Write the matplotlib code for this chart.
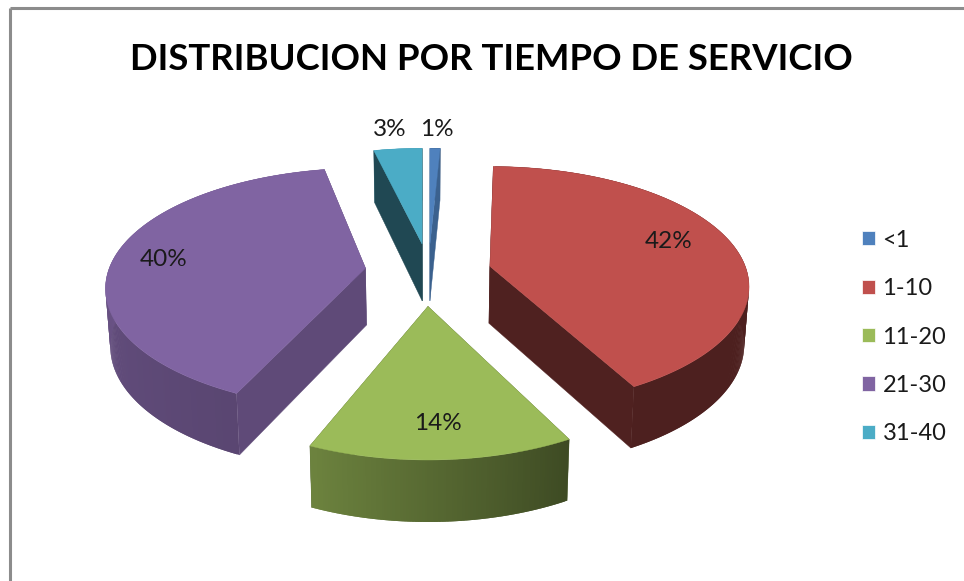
import numpy as np
import matplotlib
matplotlib.use('Agg')
import matplotlib.pyplot as plt
from matplotlib.patches import Patch, Polygon

# datos
CATEGORIAS = ['<1', '1-10', '11-20', '21-30', '31-40']
VALORES = [1, 42, 14, 40, 3]
COLORES = ['#4f81bd', '#c0504d', '#9bbb59', '#8064a2', '#4bacc6']

# geometry of the fake 3D pie, in pixels
CX, CY = 428, 272
RADIO = 258
PERSP = 0.17
ALTO = 118
EXPLOTA_X, EXPLOTA_Y = 63, 31
POS_ETIQUETAS = [(437, 130), (669, 241), (438, 424), (164, 260), (390, 130)]
# small per slice corrections of the start / end angle (the original has some perspective)
AJUSTE = [(0, -0.8), (-2.7, -3.5), (-2.5, -2.5), (0, 0), (-2.5, 0)]
SOMBRA_CORTE = [0.75, 0.41, 0.5, 0.74, 0.42]

plt.rcParams['font.family'] = ['Lato', 'DejaVu Sans']
fig = plt.figure(figsize=(9.64, 5.81), dpi=100)
ax = fig.add_axes([0, 0, 1, 1])
ax.set_xlim(0, 964)
ax.set_ylim(581, 0)
ax.axis('off')


def sombra(grados):
    # how much light the outer wall gets at this angle
    return np.interp(grados, [0, 155, 205, 250, 280, 360], [0.41, 0.40, 0.70, 0.76, 0.86, 0.86])


def oscuro(color, k):
    return tuple(np.array(matplotlib.colors.to_rgb(color)) * k)


def punto(ap, grados, escala, escala_y):
    t = np.radians(grados)
    u, v = np.sin(t), np.cos(t)
    d = 1 + PERSP * v
    return ap[0] + escala * RADIO * u / d, ap[1] - escala * escala_y * ALTO * v / d, v


def abajo(x, y, v):
    return CX + (x - CX) * 0.985, y + 57 - 5 * v


def dibuja_trozo(n, ini, fin):
    color = COLORES[n]
    medio = np.radians((ini + fin) / 2)
    s, c = np.sin(medio), np.cos(medio)
    apice = (CX + EXPLOTA_X * s, CY - EXPLOTA_Y * c / (1 + 0.1 * c))
    escala = 1 / (1 + 0.055 * max(c, 0))
    escala_y = 1 + 0.08 * max(-c, 0)

    angs = np.linspace(ini, fin, max(int(fin - ini) * 2, 8) + 1)
    angs_vista = np.linspace(ini + AJUSTE[n][0], fin + AJUSTE[n][1], len(angs))
    xs, ys, vs = punto(apice, angs_vista, escala, escala_y)
    bx, by = abajo(xs, ys, vs)
    ax0, ay0 = abajo(apice[0], apice[1], 0)

    def paredes():
        # outer wall, every quad overlaps the next one so no seams show
        for i in range(len(angs) - 1):
            j = min(i + 2, len(angs) - 1)
            q = [(xs[i], ys[i]), (xs[j], ys[j]), (bx[j], by[j]), (bx[i], by[i])]
            col = oscuro(color, sombra((angs[i] + angs[i + 1]) / 2))
            ax.add_patch(Polygon(q, closed=True, facecolor=col, edgecolor='none'))

    def cortes():
        col = oscuro(color, SOMBRA_CORTE[n])
        for i in [-1, 0]:
            q = [apice, (xs[i], ys[i]), (bx[i], by[i]), (ax0, ay0)]
            ax.add_patch(Polygon(q, closed=True, facecolor=col, edgecolor=col, linewidth=0.3))

    # the slice facing the viewer hides its cut faces behind the wall
    if ini < 180 < fin:
        cortes()
        paredes()
    else:
        paredes()
        cortes()

    arriba = [apice] + list(zip(xs, ys))
    ax.add_patch(Polygon(arriba, closed=True, facecolor=color, edgecolor=color, linewidth=0.3))


# angles clockwise from the top
bordes = np.cumsum([0] + VALORES) / sum(VALORES) * 360
for i in [4, 0, 3, 1, 2]:
    dibuja_trozo(i, bordes[i], bordes[i + 1])

for v, (x, y) in zip(VALORES, POS_ETIQUETAS):
    ax.text(x, y, f'{v}%', fontsize=17.5, color='#1a1a1a', ha='center', va='center')

ax.text(491, 60, 'DISTRIBUCION POR TIEMPO DE SERVICIO', fontsize=26.3, fontweight='bold',
        color='black', ha='center', va='center')

# legend
handles = [Patch(facecolor=c, edgecolor='white', linewidth=0.5) for c in COLORES]
ax.legend(handles, CATEGORIAS, loc='upper left', bbox_to_anchor=(857, 225), bbox_transform=ax.transData,
          frameon=False, fontsize=17, labelcolor='#1a1a1a', handlelength=0.55, handleheight=0.55,
          handletextpad=0.33, labelspacing=1.16, borderpad=0.2, borderaxespad=0)

# chart frame, cut off on the right and bottom
ax.plot([10, 10], [581, 8], color='#8c8c8c', lw=2.2, solid_capstyle='butt')
ax.plot([10, 964], [8, 8], color='#8c8c8c', lw=2.2, solid_capstyle='butt')

fig.savefig('out.png', dpi=100, facecolor='white')
